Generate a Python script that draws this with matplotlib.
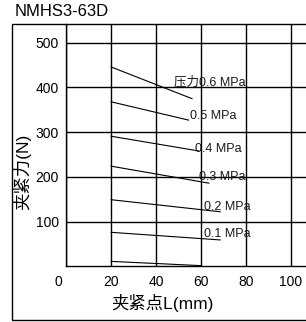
import matplotlib.pyplot as plt
from matplotlib.patches import Rectangle
import matplotlib.transforms as mtransforms

plt.rcParams['font.family'] = ['Liberation Sans', 'Noto Sans CJK SC']

# Curvas fuerza de sujeción vs punto de sujeción
etiquetas = ['压力0.6 MPa', '0.5 MPa', '0.4 MPa', '0.3 MPa', '0.2 MPa', '0.1 MPa', '']
x_ini = [20, 20, 20, 20, 20, 20, 20]
x_fin = [56, 54.5, 59, 63.5, 68.5, 68.5, 60]
f_ini = [446, 368, 291, 224, 149, 76, 11]
f_fin = [375, 327, 258, 186, 122, 59, 1.5]

# Posición de las etiquetas
etq_x = [48, 55, 57.5, 59, 61.5, 61.5, 0]
etq_y = [412, 336, 262, 200, 133, 72, 0]

xticks = [0, 20, 40, 60, 80, 100]
yticks = [100, 200, 300, 400, 500]

fig = plt.figure(figsize=(3.06, 3.22), dpi=100)

# Marco exterior
fig.patches.append(Rectangle((12/306, 2/322), 1.2, 296/322, transform=fig.transFigure,
                             fill=False, edgecolor='black', linewidth=1.0))

ax = fig.add_axes([66/306, (322-266.3)/322, 270/306, 242.3/322])
ax.set_xlim(0, 120)
ax.set_ylim(0, 542)

for i in range(len(x_ini)):
    ax.plot([x_ini[i], x_fin[i]], [f_ini[i], f_fin[i]], color='black', linewidth=0.8)
    if etiquetas[i]:
        ax.text(etq_x[i], etq_y[i], etiquetas[i], fontsize=9, ha='left', va='center',
                color='#1a1a1a')

ax.set_xticks(xticks)
ax.set_yticks(yticks)
ax.grid(True, color='black', linewidth=1.0)
ax.tick_params(length=0, labelsize=10, pad=6)
ax.tick_params(axis='y', pad=5)
for s in ['top', 'right']:
    ax.spines[s].set_visible(False)
for s in ['left', 'bottom']:
    ax.spines[s].set_linewidth(1.0)

# El "0" del eje x está algo desplazado a la izquierda
lbl0 = ax.get_xticklabels()[0]
lbl0.set_transform(lbl0.get_transform() + mtransforms.ScaledTranslation(-8/100, 0, fig.dpi_scale_trans))

fig.text(15/306, 1 - 11/322, 'NMHS3-63D', fontsize=12, ha='left', va='center')
fig.text(162/306, 1 - 303/322, '夹紧点L(mm)', fontsize=12.5, ha='center', va='center')
fig.text(22/306, 1 - 172/322, '夹紧力(N)', fontsize=12.5, ha='center', va='center', rotation=90)

fig.savefig('out.png', dpi=100)
